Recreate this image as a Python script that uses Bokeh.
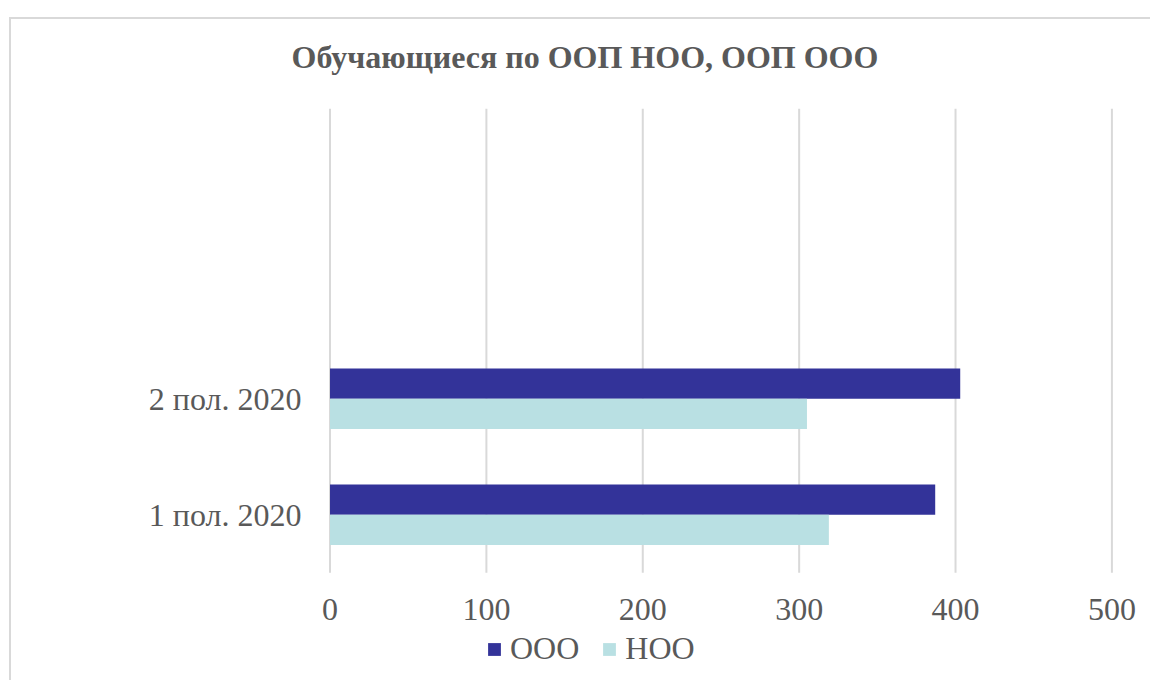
from bokeh.plotting import figure
from bokeh.models import Range1d, FixedTicker, Legend, LegendItem, Title
from bokeh.embed import file_html
from bokeh.resources import INLINE

# ---- data ----
categories = ["1 пол. 2020", "2 пол. 2020"]
series_names = ["ООО", "НОО"]
ooo_values = [387, 403]
noo_values = [319, 305]
x_ticks = [0, 100, 200, 300, 400, 500]

title_text = "Обучающиеся по ООП НОО, ООП ООО"
FONT = "Liberation Serif"
TEXT_COLOR = "#595959"
GRID_COLOR = "#d9d9d9"
DARK = "#333399"
LIGHT = "#b9e0e3"

N_SLOTS = 4  # category slots on the value axis (two are empty, as in the original)

W, H = 1150, 680
p = figure(width=W, height=H, output_backend="svg", toolbar_location=None,
           x_range=Range1d(-8, 517), y_range=Range1d(-0.85, N_SLOTS),
           min_border_left=317, min_border_right=12,
           min_border_top=108, min_border_bottom=9)
# chart-area border (left and top edges; the others lie outside the window)
line = f"linear-gradient({GRID_COLOR}, {GRID_COLOR})"
p.styles = {"background": f"{line} 9px 17px / 100% 2px no-repeat, "
                          f"{line} 9px 17px / 2px 100% no-repeat"}
p.outline_line_color = None
p.background_fill_color = "white"
p.border_fill_alpha = 0

# title
p.title = Title(text=title_text, align="left", offset=-26, standoff=64,
                vertical_align="top",
                text_font=FONT, text_font_size="32px", text_font_style="bold",
                text_color=TEXT_COLOR)

# vertical grid lines (only over the category area)
p.segment(x0=x_ticks, y0=[0] * len(x_ticks), x1=x_ticks, y1=[N_SLOTS] * len(x_ticks),
          line_color=GRID_COLOR, line_width=2)
p.xgrid.grid_line_color = None
p.ygrid.grid_line_color = None

# bars
bar_h = 0.26
pos = [i + 0.5 for i in range(len(categories))]
ooo_y = [c + bar_h / 2 for c in pos]
noo_y = [c - bar_h / 2 for c in pos]
r1 = p.hbar(y=ooo_y, right=ooo_values, left=0, height=bar_h,
            fill_color=DARK, line_color=None)
r2 = p.hbar(y=noo_y, right=noo_values, left=0, height=bar_h,
            fill_color=LIGHT, line_color=None)

# x axis, pinned at y = 0
p.xaxis.fixed_location = 0
p.xaxis.ticker = FixedTicker(ticks=x_ticks)
p.xaxis.axis_line_color = None
p.xaxis.major_tick_line_color = None
p.xaxis.minor_tick_line_color = None
p.xaxis.major_label_standoff = 20
p.xaxis.major_label_text_font = FONT
p.xaxis.major_label_text_font_size = "32px"
p.xaxis.major_label_text_color = TEXT_COLOR

# y axis
p.yaxis.ticker = FixedTicker(ticks=pos)
p.yaxis.major_label_overrides = {pos[i]: categories[i] for i in range(len(categories))}
p.yaxis.axis_line_color = None
p.yaxis.major_tick_line_color = None
p.yaxis.minor_tick_line_color = None
p.yaxis.major_label_standoff = 10
p.yaxis.major_label_text_font = FONT
p.yaxis.major_label_text_font_size = "32px"
p.yaxis.major_label_text_color = TEXT_COLOR

# legend
legend = Legend(items=[LegendItem(label=series_names[0], renderers=[r1]),
                       LegendItem(label=series_names[1], renderers=[r2])],
                orientation="horizontal", location=(169, 4),
                glyph_width=16, glyph_height=16, label_standoff=8, spacing=22,
                padding=0, margin=0, border_line_color=None,
                background_fill_alpha=0,
                label_text_font=FONT, label_text_font_size="32px",
                label_text_color=TEXT_COLOR)
p.add_layout(legend, "center")

open("out.html", "w").write(file_html(p, INLINE))
